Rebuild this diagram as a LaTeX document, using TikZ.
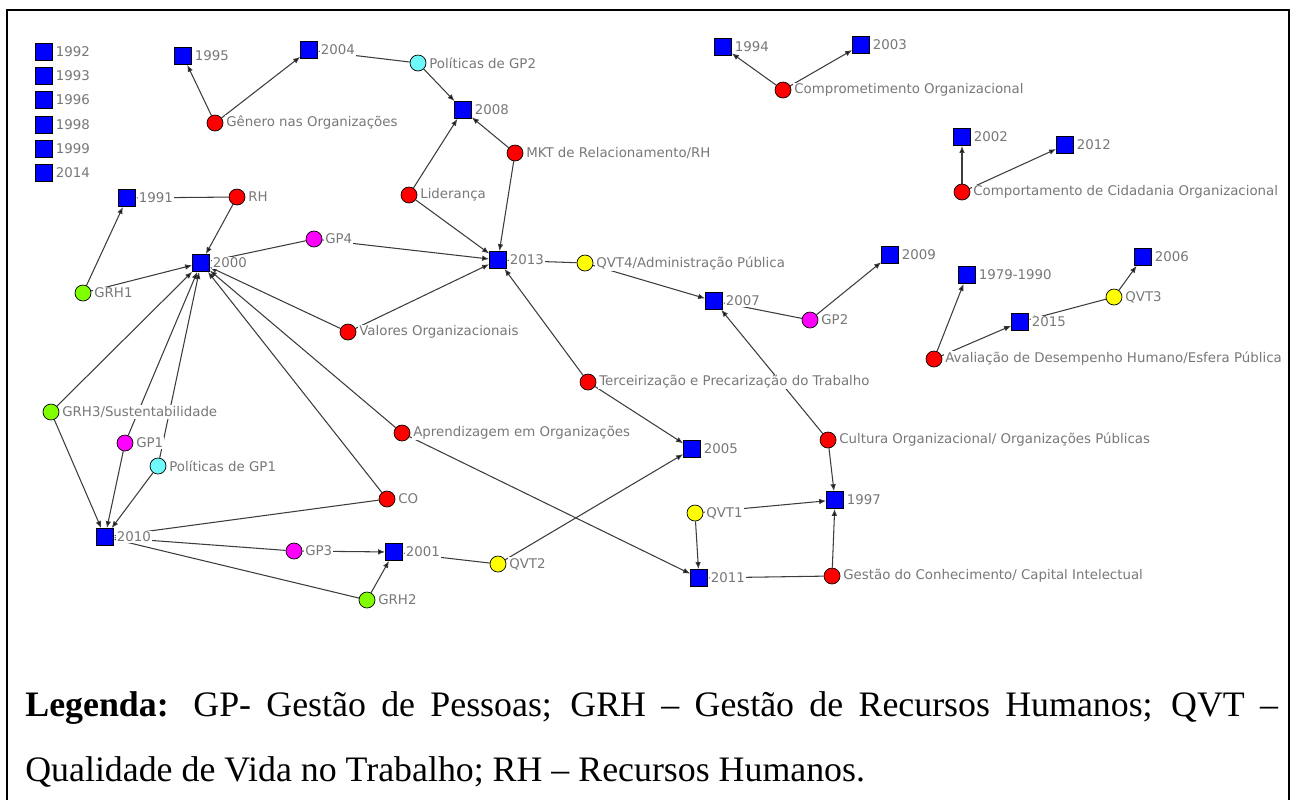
\documentclass[tikz,border=0pt]{standalone}
\usepackage{fontspec}
\setmainfont{Liberation Serif}
\newfontfamily\lblfont{DejaVu Sans}
\usetikzlibrary{arrows.meta}
\pgfdeclarelayer{background}
\pgfsetlayers{background,main}
\definecolor{yrblue}{RGB}{0,0,255}
\definecolor{topicred}{RGB}{255,0,0}
\definecolor{topicmag}{RGB}{255,0,255}
\definecolor{topiccyan}{RGB}{110,250,250}
\definecolor{topicgreen}{RGB}{128,255,0}
\definecolor{topicyellow}{RGB}{255,255,0}
\definecolor{lblgray}{RGB}{120,120,120}
\definecolor{linkgray}{RGB}{60,60,60}
\begin{document}
\begin{tikzpicture}[x=0.02cm, y=-0.02cm, label distance=1pt]
        \tikzstyle{yr} = [draw, rectangle, fill=yrblue, minimum size=0.34cm, inner sep=0pt, line width=0.4pt];
        \tikzstyle{topic} = [draw, circle, minimum size=0.32cm, inner sep=0pt, line width=0.4pt];
        \tikzstyle{lbl} = [fill=white, text=lblgray, font=\lblfont\fontsize{7.6}{9}\selectfont, inner sep=0.5pt];
        \tikzstyle{link} = [draw=linkgray, line width=0.6pt, -{Latex[length=4pt,width=3.2pt]}];
        \tikzset{every label/.style=lbl}

        \useasboundingbox (0,0) rectangle (1293,799);
        \draw[line width=1.2pt] (7,815) -- (7,10) -- (1289,10) -- (1289,815);

        % anos
        \node(y1992)[yr, label=right:1992] at (44,52){};
        \node(y1993)[yr, label=right:1993] at (44,76){};
        \node(y1996)[yr, label=right:1996] at (44,100){};
        \node(y1998)[yr, label=right:1998] at (44,125){};
        \node(y1999)[yr, label=right:1999] at (44,149){};
        \node(y2014)[yr, label=right:2014] at (44,173){};
        \node(y1995)[yr, label=right:1995] at (183,56){};
        \node(y2004)[yr, label=right:2004] at (309,50){};
        \node(y2008)[yr, label=right:2008] at (463,110){};
        \node(y1994)[yr, label=right:1994] at (723,47){};
        \node(y2003)[yr, label=right:2003] at (861,45){};
        \node(y2002)[yr, label=right:2002] at (962,137){};
        \node(y2012)[yr, label=right:2012] at (1065,145){};
        \node(y1991)[yr, label=right:1991] at (127,198){};
        \node(y2000)[yr, label=right:2000] at (201,263){};
        \node(y2013)[yr, label=right:2013] at (498,260){};
        \node(y2007)[yr, label=right:2007] at (714,301){};
        \node(y2009)[yr, label=right:2009] at (890,255){};
        \node(y1979)[yr, label=right:1979-1990] at (967,275){};
        \node(y2006)[yr, label=right:2006] at (1143,257){};
        \node(y2015)[yr, label=right:2015] at (1020,322){};
        \node(y2005)[yr, label=right:2005] at (692,449){};
        \node(y1997)[yr, label=right:1997] at (835,500){};
        \node(y2010)[yr, label=right:2010] at (105,537){};
        \node(y2001)[yr, label=right:2001] at (394,552){};
        \node(y2011)[yr, label=right:2011] at (699,578){};

        % temas
        \node(genero)[topic, fill=topicred, label=right:Gênero nas Organizações] at (215,123){};
        \node(polgp2)[topic, fill=topiccyan, label=right:Políticas de GP2] at (418,63){};
        \node(mkt)[topic, fill=topicred, label=right:MKT de Relacionamento/RH] at (515,153){};
        \node(lideranca)[topic, fill=topicred, label=right:Liderança] at (409,195){};
        \node(compromet)[topic, fill=topicred, label=right:Comprometimento Organizacional] at (783,90){};
        \node(cidadania)[topic, fill=topicred, label=right:Comportamento de Cidadania Organizacional] at (962,192){};
        \node(rh)[topic, fill=topicred, label=right:RH] at (237,197){};
        \node(gp4)[topic, fill=topicmag, label=right:GP4] at (314,239){};
        \node(grh1)[topic, fill=topicgreen, label=right:GRH1] at (83,293){};
        \node(qvt4)[topic, fill=topicyellow, label=right:QVT4/Administração Pública] at (585,263){};
        \node(valores)[topic, fill=topicred, label=right:Valores Organizacionais] at (348,332){};
        \node(gp2)[topic, fill=topicmag, label=right:GP2] at (810,320){};
        \node(qvt3)[topic, fill=topicyellow, label=right:QVT3] at (1114,297){};
        \node(avaliacao)[topic, fill=topicred, label=right:Avaliação de Desempenho Humano/Esfera Pública] at (934,359){};
        \node(terceiriz)[topic, fill=topicred, label=right:Terceirização e Precarização do Trabalho] at (588,382){};
        \node(grh3)[topic, fill=topicgreen, label=right:GRH3/Sustentabilidade] at (51,412){};
        \node(gp1)[topic, fill=topicmag, label=right:GP1] at (125,443){};
        \node(polgp1)[topic, fill=topiccyan, label=right:Políticas de GP1] at (158,466){};
        \node(aprendiz)[topic, fill=topicred, label=right:Aprendizagem em Organizações] at (402,433){};
        \node(cultura)[topic, fill=topicred, label=right:Cultura Organizacional/ Organizações Públicas] at (828,440){};
        \node(co)[topic, fill=topicred, label=right:CO] at (387,499){};
        \node(qvt1)[topic, fill=topicyellow, label=right:QVT1] at (695,513){};
        \node(gp3)[topic, fill=topicmag, label=right:GP3] at (294,551){};
        \node(qvt2)[topic, fill=topicyellow, label=right:QVT2] at (498,564){};
        \node(grh2)[topic, fill=topicgreen, label=right:GRH2] at (367,600){};
        \node(gestcon)[topic, fill=topicred, label=right:Gestão do Conhecimento/ Capital Intelectual] at (832,576){};

        \begin{pgfonlayer}{background}
        \draw[link] (genero) edge (y1995) edge (y2004);
        \draw[link] (polgp2) edge (y2004) edge (y2008);
        \draw[link] (lideranca) edge (y2008) edge (y2013);
        \draw[link] (mkt) edge (y2008) edge (y2013);
        \draw[link] (compromet) edge (y1994) edge (y2003);
        \draw[link] (cidadania) edge (y2002) edge (y2012);
        \draw[link] (rh) edge (y1991) edge (y2000);
        \draw[link] (grh1) edge (y1991) edge (y2000);
        \draw[link] (gp4) edge (y2000) edge (y2013);
        \draw[link] (valores) edge (y2000) edge (y2013);
        \draw[link] (qvt4) edge (y2013) edge (y2007);
        \draw[link] (terceiriz) edge (y2013) edge (y2005);
        \draw[link] (gp2) edge (y2007) edge (y2009);
        \draw[link] (cultura) edge (y2007) edge (y1997);
        \draw[link] (avaliacao) edge (y1979) edge (y2015);
        \draw[link] (qvt3) edge (y2015) edge (y2006);
        \draw[link] (grh3) edge (y2000) edge (y2010);
        \draw[link] (gp1) edge (y2000) edge (y2010);
        \draw[link] (polgp1) edge (y2000) edge (y2010);
        \draw[link] (aprendiz) edge (y2000) edge (y2011);
        \draw[link] (co) edge (y2000) edge (y2010);
        \draw[link] (gp3) edge (y2010) edge (y2001);
        \draw[link] (grh2) edge (y2010) edge (y2001);
        \draw[link] (qvt2) edge (y2001) edge (y2005);
        \draw[link] (qvt1) edge (y2011) edge (y1997);
        \draw[link] (gestcon) edge (y2011) edge (y1997);
        \end{pgfonlayer}

        % legenda
        \node(legenda1)[anchor=base west, inner sep=0pt, font=\fontsize{20.4}{24}\selectfont] at (25,716)
            {\makebox[25.06cm][s]{\textbf{Legenda:} GP- Gestão de Pessoas; GRH – Gestão de Recursos Humanos; QVT –}};
        \node(legenda2)[anchor=base west, inner sep=0pt, font=\fontsize{20.4}{24}\selectfont] at (25,781)
            {Qualidade de Vida no Trabalho; RH – Recursos Humanos.};
\end{tikzpicture}
\end{document}
